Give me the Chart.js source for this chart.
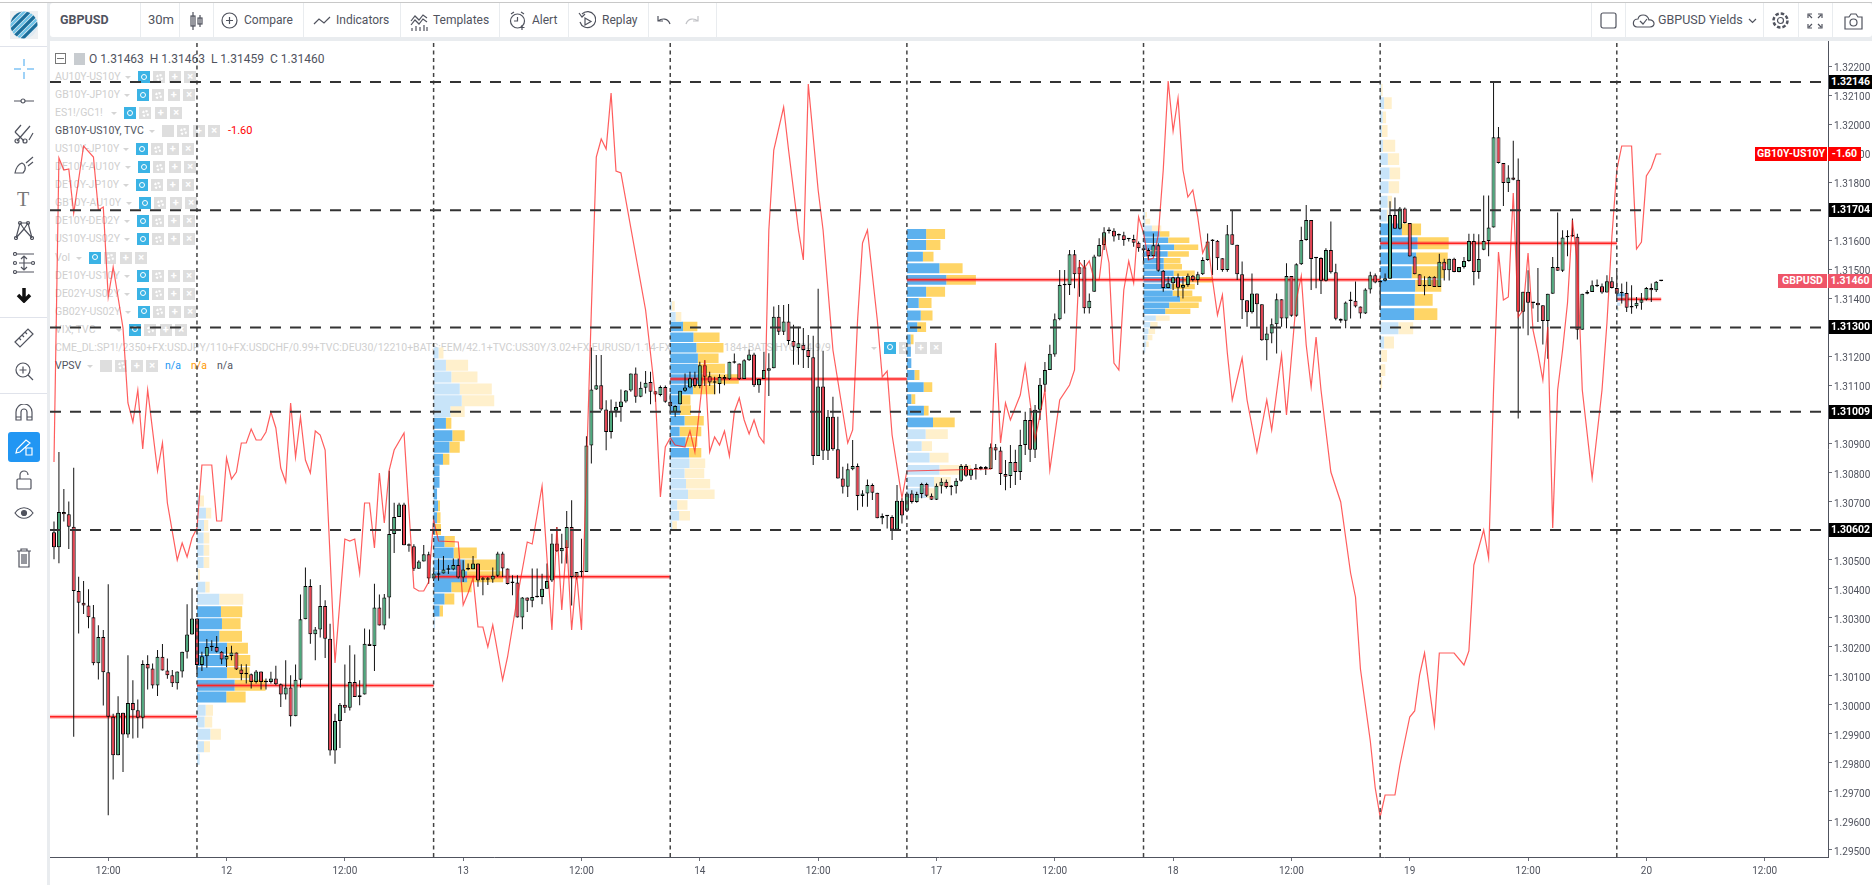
<!DOCTYPE html>
<html>
<head>
<meta charset="utf-8">
<title>GBPUSD 30m</title>
<script src="https://cdn.jsdelivr.net/npm/chart.js@4"></script>
<style>
  html, body { margin: 0; padding: 0; background: #e9ecef; overflow: hidden; }
  body { width: 1872px; height: 885px; position: relative; font-family: Roboto, sans-serif; color: #50535e; }
  #topline { position: absolute; left: 0; top: 0; width: 1872px; height: 3px; background: #fff; border-bottom: 1px solid #c8c8c8; box-sizing: border-box; }
  #topbar { position: absolute; left: 50px; top: 3px; width: 1822px; height: 34px; background: #fff; border-radius: 3px; }
  #leftbar { position: absolute; left: 0; top: 3px; width: 47px; height: 882px; background: #fff; }
  #logoBox { position: absolute; left: 0; top: 3px; width: 47px; height: 44px; border-bottom: 1px solid #e0e3eb; box-sizing: border-box; }
  #pane { position: absolute; left: 50px; top: 41px; width: 1822px; height: 844px; background: #fff; }
  #chartWrap { position: absolute; left: 50px; top: 41px; width: 1822px; height: 844px; }
  .sep { position: absolute; top: 3px; height: 34px; width: 1px; background: #e9ecef; }
  .hd { position: absolute; top: 13px; font-size: 12px; line-height: 14px; color: #50535e; white-space: nowrap; }
  .icon { position: absolute; }
  .icon * { fill: none; stroke: #50535e; stroke-width: 1.2; }
  .lsep { position: absolute; left: 0; width: 47px; height: 1px; background: #e0e3eb; }
  .lg { position: absolute; font-size: 10.5px; line-height: 14px; white-space: nowrap; color: #cfcfcf; }
  .lg.on { color: #50535e; }
  .caret { position: absolute; width: 0; height: 0; border-left: 3px solid transparent; border-right: 3px solid transparent; border-top: 3px solid #d5d5d5; }
  .btns { position: absolute; height: 12px; display: flex; gap: 3.4px; }
  .b { width: 12px; height: 12px; background: #dedede; color: #fff; font-size: 11px; line-height: 12px; text-align: center; font-weight: 700; }
  .b.eye { background: #3bb3e5; }
  .b.eye::after { content: ""; display: block; width: 4px; height: 4px; margin: 2.5px auto; border: 1.5px solid #fff; border-radius: 50%; }
  .b.gear::after { content: ""; display: block; width: 3px; height: 3px; margin: 2.5px auto; border: 2px dotted #fff; border-radius: 50%; }
  .tag { position: absolute; height: 14px; line-height: 14px; font-size: 10.5px; font-weight: 700; color: #fff; text-align: center; white-space: nowrap; }
</style>
</head>
<body>
<div id="topline"></div>
<div id="leftbar"></div>
<div id="logoBox"></div>
<div id="topbar"></div>
<div id="pane"></div>
<div id="legend"></div>
<div id="chartWrap"><canvas id="chart" width="1822" height="844"></canvas></div>
<div id="tags"></div>

<!-- logo -->
<svg class="icon" style="left:10px;top:11px" width="28" height="28" viewBox="0 0 28 28">
  <defs><clipPath id="logoClip"><circle cx="14" cy="14" r="13.5"/></clipPath></defs>
  <rect width="28" height="28" style="fill:#eef0f2;stroke:none"/>
  <g clip-path="url(#logoClip)">
    <circle cx="14" cy="14" r="14" style="fill:#dfeaf2;stroke:none"/>
    <path d="M-4 14 L14 -4 M0 20 L20 0 M4 26 L26 4 M10 30 L30 10 M16 34 L34 16" style="stroke:#1b6f9c;stroke-width:3.2"/>
    <path d="M-2 17 L17 -2 M2 23 L23 2 M7 28 L28 7" style="stroke:#6fc3e8;stroke-width:2.4"/>
  </g>
</svg>

<!-- top bar -->
<div class="sep" style="left:140px"></div><div class="sep" style="left:179px"></div><div class="sep" style="left:213px"></div>
<div class="sep" style="left:303px"></div><div class="sep" style="left:400px"></div><div class="sep" style="left:499px"></div>
<div class="sep" style="left:568px"></div><div class="sep" style="left:648px"></div><div class="sep" style="left:716px"></div>
<div class="sep" style="left:1591px"></div><div class="sep" style="left:1625px"></div><div class="sep" style="left:1763px"></div>
<div class="sep" style="left:1798px"></div><div class="sep" style="left:1832px"></div>
<div class="hd" style="left:60px;font-weight:700;font-size:12.5px">GBPUSD</div>
<div class="hd" style="left:148px;font-size:13px">30m</div>
<svg class="icon" style="left:189px;top:11px" width="15" height="20"><path d="M4 1V19M11 4V16"/><rect x="2" y="5" width="4" height="10"/><rect x="9" y="7" width="4" height="6"/></svg>
<svg class="icon" style="left:221px;top:12px" width="17" height="17"><circle cx="8.5" cy="8.5" r="7.5"/><path d="M8.5 5V12M5 8.5H12"/></svg>
<div class="hd" style="left:244px">Compare</div>
<svg class="icon" style="left:313px;top:15px" width="18" height="12"><path d="M1 9L6 4L11 8L17 2"/></svg>
<div class="hd" style="left:336px">Indicators</div>
<svg class="icon" style="left:410px;top:12px" width="18" height="20"><path d="M1 9L5 4L9 8L13 3L17 6M1 13L5 8L9 12L13 7L17 10M2 19V16M6 19V14M10 19V15M14 19V13M17 19V15"/></svg>
<div class="hd" style="left:433px">Templates</div>
<svg class="icon" style="left:509px;top:11px" width="18" height="20"><circle cx="8.5" cy="10" r="7"/><path d="M8.5 6V10H5M2 3L5 1M15 3L12 1M13 14V19M10.5 16.5H15.500"/></svg>
<div class="hd" style="left:532px">Alert</div>
<svg class="icon" style="left:578px;top:11px" width="18" height="20"><path d="M4 3A8 8 0 1 1 2 11M1 2L4 6L7 3"/><path d="M7 7V14L13 10.500Z"/></svg>
<div class="hd" style="left:602px">Replay</div>
<svg class="icon" style="left:657px;top:15px" width="14" height="12"><path d="M13 9C11 3 5 3 1 6M1 1V6H6"/></svg>
<svg class="icon" style="left:685px;top:15px;opacity:.35" width="14" height="12"><path d="M1 9C3 3 9 3 13 6M13 1V6H8"/></svg>
<svg class="icon" style="left:1600px;top:12px" width="17" height="17"><rect x="1" y="1" width="15" height="15" rx="2"/></svg>
<svg class="icon" style="left:1632px;top:12px" width="23" height="17"><path d="M5 15H18C24 15 23 7 17 8C15 1 7 2 6 7C0 7 0 15 5 15ZM8 9L11 12L15 7"/></svg>
<div class="hd" style="left:1658px;font-size:12.5px">GBPUSD Yields</div>
<svg class="icon" style="left:1748px;top:18px" width="9" height="6"><path d="M1 1L4.500 4.500L8 1"/></svg>
<svg class="icon" style="left:1771px;top:11px" width="19" height="19"><circle cx="9.500" cy="9.500" r="3"/><circle cx="9.500" cy="9.500" r="7" style="stroke-dasharray:3.500 2;stroke-width:2.500"/></svg>
<svg class="icon" style="left:1807px;top:13px" width="16" height="16"><path d="M1 5V1H5M11 1H15V5M15 11V15H11M5 15H1V11M2 2L5 5M14 2L11 5M14 14L11 11M2 14L5 11"/></svg>
<svg class="icon" style="left:1844px;top:12px" width="19" height="18"><path d="M1 5H5L7 2H12L14 5H18V17H1Z"/><circle cx="9.500" cy="10.500" r="3.500"/></svg>

<!-- left tool column -->
<svg class="icon" style="left:14px;top:59px" width="20" height="20"><path d="M10 0V7M10 13V20M0 10H7M13 10H20" style="stroke:#9fd2f7;stroke-width:2"/></svg>
<svg class="icon" style="left:14px;top:97px" width="20" height="8"><path d="M0 4H7M11 4H20"/><circle cx="9" cy="4" r="2"/></svg>
<svg class="icon" style="left:14px;top:122px" width="20" height="22"><path d="M3 19L16 4M10 19L1 10M15 18L19 11M1 10L7 3"/><circle cx="3" cy="19" r="2"/><circle cx="11" cy="19" r="2"/></svg>
<svg class="icon" style="left:14px;top:155px" width="20" height="20"><path d="M1 18H9C13 14 11 9 8 8C5 9 2 13 1 18ZM12 8L19 2M14 11L19 7"/></svg>
<div class="hd" style="left:17px;top:188px;font-family:'Liberation Serif',serif;font-size:20px;line-height:22px;color:#777">T</div>
<svg class="icon" style="left:14px;top:220px" width="20" height="20"><path d="M2 18L6 3L14 3L18 18M2 18L10 9L18 18M6 3L10 9L14 3"/><circle cx="2" cy="18" r="1.500"/><circle cx="18" cy="18" r="1.500"/><circle cx="6" cy="3" r="1.500"/><circle cx="14" cy="3" r="1.500"/></svg>
<svg class="icon" style="left:13px;top:252px" width="22" height="22"><path d="M3 2H21M6 11H18M3 20H21M11 4V18M8 7L11 4L14 7M8 15L11 18L14 15"/><circle cx="2" cy="2" r="1.500"/><circle cx="2" cy="11" r="1.500"/><circle cx="20" cy="11" r="1.500"/><circle cx="2" cy="20" r="1.500"/></svg>
<svg class="icon" style="left:16px;top:288px" width="16" height="15"><path d="M8 0V14M2 7L8 13L14 7" style="stroke:#111;stroke-width:3.500"/></svg>
<div class="lsep" style="top:317px"></div>
<svg class="icon" style="left:14px;top:328px" width="20" height="20"><path d="M1 14L14 1L19 6L6 19ZM5 10L7 12M8 7L10 9M11 4L13 6"/></svg>
<svg class="icon" style="left:14px;top:361px" width="20" height="20"><circle cx="9" cy="9" r="7"/><path d="M9 5.500V12.500M5.500 9H12.500M14 14L19 19"/></svg>
<div class="lsep" style="top:393px"></div>
<svg class="icon" style="left:15px;top:404px" width="18" height="20"><path d="M1 16V8A8 8 0 0 1 17 8V16H12V8A3 3 0 0 0 6 8V16ZM1 13H6M12 13H17"/></svg>
<div style="position:absolute;left:8px;top:432px;width:32px;height:30px;border-radius:3px;background:#2196f3"></div>
<svg class="icon" style="left:14px;top:437px" width="20" height="20"><path d="M2 16L3 12L12 3L16 6L6 15Z M12 11H18V18H12Z" style="stroke:#fff"/></svg>
<svg class="icon" style="left:16px;top:470px" width="16" height="20"><rect x="1" y="9" width="14" height="10" rx="1"/><path d="M4 9V5A4 4 0 0 1 12 5"/></svg>
<svg class="icon" style="left:14px;top:506px" width="20" height="14"><path d="M1 7C6 0 14 0 19 7C14 14 6 14 1 7Z"/><circle cx="10" cy="7" r="2.500" style="fill:#50535e"/></svg>
<svg class="icon" style="left:16px;top:548px" width="16" height="20"><path d="M1 3H15M5 3V1H11V3M3 3V19H13V3M6 6V16M8 6V16M10 6V16"/></svg>

<script>
  var opens = [
    1.30594,1.30542,1.30664,1.30656,1.30613,1.30392,1.30351,1.30342,1.30301,1.30143,
    1.30233,1.30112,1.29958,1.29826,1.29972,1.29897,1.30006,1.29981,1.29955,1.30140,
    1.30125,1.30066,1.30165,1.30118,1.30101,1.30074,1.30114,1.30182,1.30242,1.30297,
    1.30137,1.30167,1.30199,1.30199,1.30182,1.30156,1.30168,1.30180,1.30121,1.30106,
    1.30105,1.30078,1.30114,1.30078,1.30078,1.30090,1.30070,1.30035,1.30059,1.29960,
    1.30086,1.30294,1.30409,1.30243,1.30259,1.30340,1.30227,1.29842,1.29944,1.30000,
    1.29989,1.30078,1.30032,1.30035,1.30210,1.30202,1.30335,1.30273,1.30369,1.30588,
    1.30647,1.30690,1.30549,1.30546,1.30468,1.30493,1.30518,1.30435,1.30449,1.30452,
    1.30466,1.30466,1.30481,1.30438,1.30467,1.30467,1.30486,1.30431,1.30431,1.30431,
    1.30444,1.30521,1.30469,1.30420,1.30421,1.30300,1.30369,1.30358,1.30371,1.30371,
    1.30399,1.30428,1.30555,1.30529,1.30540,1.30612,1.30440,1.30457,1.30457,1.30893,
    1.31086,1.31101,1.31017,1.30940,1.31013,1.31026,1.31045,1.31083,1.31141,1.31061,
    1.31092,1.31112,1.31080,1.31067,1.31095,1.31044,1.31009,1.31035,1.31082,1.31093,
    1.31125,1.31098,1.31170,1.31132,1.31110,1.31105,1.31129,1.31121,1.31182,1.31176,
    1.31122,1.31187,1.31207,1.31101,1.31122,1.31151,1.31159,1.31337,1.31285,1.31320,
    1.31253,1.31229,1.31240,1.31222,1.31197,1.30857,1.31096,1.30875,1.30992,1.30880,
    1.30779,1.30751,1.30811,1.30822,1.30719,1.30728,1.30757,1.30730,1.30642,1.30650,
    1.30647,1.30604,1.30703,1.30668,1.30728,1.30698,1.30726,1.30760,1.30720,1.30706,
    1.30754,1.30768,1.30750,1.30753,1.30772,1.30822,1.30789,1.30812,1.30812,1.30819,
    1.30812,1.30887,1.30876,1.30795,1.30788,1.30836,1.30802,1.30895,1.30981,1.30878,
    1.31016,1.31102,1.31153,1.31207,1.31328,1.31446,1.31446,1.31552,1.31507,1.31507,
    1.31366,1.31423,1.31544,1.31584,1.31633,1.31633,1.31618,1.31618,1.31605,1.31605,
    1.31592,1.31573,1.31567,1.31546,1.31583,1.31495,1.31436,1.31452,1.31473,1.31437,
    1.31446,1.31478,1.31463,1.31483,1.31532,1.31599,1.31599,1.31538,1.31498,1.31621,
    1.31585,1.31483,1.31394,1.31352,1.31417,1.31380,1.31256,1.31279,1.31311,1.31397,
    1.31331,1.31477,1.31340,1.31518,1.31601,1.31670,1.31539,1.31539,1.31461,1.31567,
    1.31490,1.31330,1.31323,1.31392,1.31392,1.31372,1.31348,1.31431,1.31480,1.31461,
    1.31461,1.31468,1.31687,1.31640,1.31710,1.31660,1.31544,1.31483,1.31443,1.31443,
    1.31475,1.31439,1.31526,1.31497,1.31537,1.31491,1.31508,1.31529,1.31598,1.31491,
    1.31568,1.31598,1.31644,1.31955,1.31867,1.31798,1.31817,1.31809,1.31354,1.31423,
    1.31385,1.31385,1.31376,1.31322,1.31416,1.31508,1.31495,1.31612,1.31614,1.31612,
    1.31292,1.31416,1.31422,1.31443,1.31442,1.31420,1.31459,1.31436,1.31419,1.31419,
    1.31370,1.31373,1.31385,1.31396,1.31436,1.31428,1.31460
  ];
  var highs = [
    1.30631,1.30871,1.30743,1.30700,1.30816,1.30441,1.30426,1.30398,1.30343,1.30274,
    1.30257,1.30415,1.29969,1.30029,1.29972,1.30170,1.30084,1.30018,1.30153,1.30170,
    1.30142,1.30188,1.30209,1.30159,1.30119,1.30114,1.30182,1.30346,1.30401,1.30297,
    1.30182,1.30226,1.30222,1.30237,1.30185,1.30199,1.30203,1.30180,1.30139,1.30139,
    1.30107,1.30119,1.30114,1.30090,1.30113,1.30134,1.30073,1.30153,1.30101,1.30138,
    1.30380,1.30473,1.30432,1.30268,1.30412,1.30360,1.30279,1.29969,1.30006,1.30138,
    1.30205,1.30173,1.30084,1.30262,1.30259,1.30417,1.30380,1.30381,1.30806,1.30696,
    1.30696,1.30696,1.30555,1.30553,1.30498,1.30550,1.30527,1.30473,1.30504,1.30512,
    1.30481,1.30504,1.30504,1.30498,1.30486,1.30512,1.30486,1.30440,1.30440,1.30473,
    1.30527,1.30527,1.30469,1.30446,1.30446,1.30371,1.30369,1.30469,1.30469,1.30451,
    1.30486,1.30589,1.30612,1.30589,1.30667,1.30704,1.30457,1.30572,1.30925,1.31231,
    1.31205,1.31205,1.31049,1.31052,1.31044,1.31086,1.31084,1.31141,1.31162,1.31113,
    1.31150,1.31147,1.31080,1.31100,1.31100,1.31072,1.31032,1.31082,1.31141,1.31147,
    1.31147,1.31182,1.31187,1.31147,1.31130,1.31139,1.31136,1.31182,1.31210,1.31176,
    1.31190,1.31224,1.31213,1.31124,1.31216,1.31211,1.31372,1.31377,1.31377,1.31381,
    1.31309,1.31302,1.31298,1.31274,1.31271,1.31433,1.31220,1.31015,1.31061,1.30992,
    1.30820,1.30831,1.30912,1.30831,1.30739,1.30776,1.30762,1.30730,1.30659,1.30653,
    1.30653,1.30757,1.30711,1.30734,1.30739,1.30734,1.30765,1.30765,1.30728,1.30762,
    1.30780,1.30776,1.30757,1.30780,1.30829,1.30829,1.30814,1.30829,1.30822,1.30822,
    1.30900,1.30898,1.30889,1.30843,1.30895,1.30878,1.30947,1.31009,1.31022,1.31033,
    1.31126,1.31181,1.31240,1.31348,1.31498,1.31498,1.31567,1.31567,1.31532,1.31532,
    1.31417,1.31550,1.31607,1.31645,1.31645,1.31642,1.31624,1.31630,1.31607,1.31619,
    1.31596,1.31584,1.31573,1.31624,1.31590,1.31498,1.31475,1.31475,1.31486,1.31475,
    1.31486,1.31481,1.31492,1.31542,1.31624,1.31604,1.31601,1.31538,1.31653,1.31705,
    1.31585,1.31527,1.31394,1.31486,1.31417,1.31380,1.31302,1.31331,1.31417,1.31397,
    1.31521,1.31477,1.31521,1.31647,1.31722,1.31670,1.31542,1.31542,1.31573,1.31665,
    1.31519,1.31331,1.31389,1.31423,1.31458,1.31372,1.31435,1.31492,1.31486,1.31463,
    1.31486,1.31735,1.31748,1.31715,1.31713,1.31660,1.31544,1.31483,1.31476,1.31476,
    1.31476,1.31554,1.31537,1.31537,1.31540,1.31508,1.31543,1.31623,1.31623,1.31621,
    1.31755,1.31755,1.32147,1.31991,1.31867,1.31859,1.31943,1.31882,1.31423,1.31497,
    1.31385,1.31505,1.31376,1.31416,1.31543,1.31696,1.31635,1.31635,1.31675,1.31623,
    1.31416,1.31428,1.31462,1.31465,1.31451,1.31480,1.31474,1.31491,1.31451,1.31457,
    1.31445,1.31405,1.31419,1.31439,1.31451,1.31460,1.31463
  ];
  var lows = [
    1.30501,1.30487,1.30631,1.30536,1.29889,1.30245,1.30312,1.30263,1.30136,1.30087,
    1.29997,1.29619,1.29742,1.29826,1.29768,1.29886,1.29883,1.29886,1.29918,1.30052,
    1.30056,1.30030,1.30118,1.30089,1.30061,1.30052,1.30094,1.30159,1.30242,1.30105,
    1.30116,1.30127,1.30185,1.30180,1.30139,1.30130,1.30153,1.30119,1.30084,1.30073,
    1.30056,1.30073,1.30052,1.30052,1.30073,1.30067,1.29992,1.30018,1.29925,1.29960,
    1.30059,1.30294,1.30210,1.30153,1.30231,1.30161,1.29825,1.29796,1.29851,1.29971,
    1.29980,1.30026,1.29998,1.30035,1.30202,1.30116,1.30273,1.30259,1.30297,1.30523,
    1.30647,1.30549,1.30527,1.30461,1.30468,1.30493,1.30417,1.30426,1.30427,1.30452,
    1.30450,1.30463,1.30435,1.30423,1.30463,1.30467,1.30406,1.30377,1.30412,1.30420,
    1.30440,1.30440,1.30414,1.30377,1.30300,1.30260,1.30319,1.30336,1.30369,1.30346,
    1.30399,1.30423,1.30526,1.30486,1.30486,1.30342,1.30431,1.30440,1.30457,1.30831,
    1.31084,1.31013,1.30877,1.30917,1.30990,1.30975,1.31040,1.31078,1.31040,1.31059,
    1.31072,1.31035,1.31044,1.31063,1.31040,1.31006,1.30992,1.31035,1.31078,1.31090,
    1.31093,1.31090,1.31098,1.31098,1.31070,1.31072,1.31101,1.31119,1.31176,1.31119,
    1.31122,1.31184,1.31095,1.31075,1.31122,1.31064,1.31159,1.31274,1.31274,1.31240,
    1.31171,1.31171,1.31160,1.31160,1.30826,1.30857,1.30843,1.30843,1.30875,1.30779,
    1.30728,1.30716,1.30808,1.30670,1.30682,1.30682,1.30705,1.30642,1.30622,1.30607,
    1.30567,1.30601,1.30624,1.30665,1.30693,1.30696,1.30711,1.30716,1.30705,1.30705,
    1.30728,1.30745,1.30722,1.30728,1.30768,1.30785,1.30774,1.30776,1.30808,1.30791,
    1.30811,1.30843,1.30757,1.30739,1.30747,1.30757,1.30774,1.30860,1.30836,1.30850,
    1.30981,1.31078,1.31153,1.31199,1.31325,1.31348,1.31412,1.31435,1.31406,1.31348,
    1.31348,1.31423,1.31544,1.31567,1.31624,1.31596,1.31601,1.31581,1.31596,1.31578,
    1.31561,1.31527,1.31532,1.31544,1.31492,1.31423,1.31435,1.31429,1.31404,1.31400,
    1.31440,1.31458,1.31446,1.31481,1.31530,1.31481,1.31498,1.31492,1.31492,1.31585,
    1.31463,1.31329,1.31302,1.31348,1.31302,1.31254,1.31187,1.31245,1.31210,1.31302,
    1.31297,1.31337,1.31337,1.31515,1.31599,1.31429,1.31435,1.31415,1.31458,1.31486,
    1.31325,1.31316,1.31297,1.31331,1.31369,1.31331,1.31346,1.31417,1.31452,1.31360,
    1.31458,1.31468,1.31640,1.31637,1.31658,1.31544,1.31483,1.31443,1.31411,1.31443,
    1.31439,1.31439,1.31462,1.31462,1.31490,1.31490,1.31503,1.31526,1.31445,1.31468,
    1.31566,1.31545,1.31644,1.31865,1.31718,1.31767,1.31807,1.30986,1.31296,1.31273,
    1.31365,1.31319,1.31241,1.31192,1.31416,1.31495,1.31491,1.31545,1.31612,1.31258,
    1.31292,1.31414,1.31422,1.31439,1.31416,1.31420,1.31434,1.31393,1.31382,1.31353,
    1.31347,1.31365,1.31361,1.31393,1.31388,1.31422,1.31459
  ];
  var closes = [
    1.30542,1.30664,1.30656,1.30613,1.30392,1.30351,1.30342,1.30301,1.30143,1.30233,
    1.30112,1.29958,1.29826,1.29972,1.29897,1.30006,1.29981,1.29955,1.30140,1.30125,
    1.30066,1.30165,1.30118,1.30101,1.30074,1.30114,1.30182,1.30242,1.30297,1.30137,
    1.30167,1.30199,1.30198,1.30182,1.30156,1.30168,1.30180,1.30121,1.30106,1.30105,
    1.30078,1.30114,1.30078,1.30077,1.30090,1.30070,1.30035,1.30059,1.29960,1.30086,
    1.30294,1.30409,1.30243,1.30259,1.30340,1.30227,1.29842,1.29944,1.30000,1.29989,
    1.30078,1.30026,1.30026,1.30210,1.30202,1.30335,1.30273,1.30369,1.30588,1.30647,
    1.30690,1.30549,1.30548,1.30468,1.30493,1.30518,1.30435,1.30452,1.30448,1.30466,
    1.30465,1.30481,1.30438,1.30466,1.30466,1.30486,1.30428,1.30430,1.30430,1.30444,
    1.30521,1.30469,1.30416,1.30419,1.30300,1.30369,1.30358,1.30371,1.30370,1.30399,
    1.30426,1.30555,1.30529,1.30540,1.30612,1.30440,1.30457,1.30456,1.30893,1.31086,
    1.31101,1.31017,1.30940,1.31013,1.31026,1.31045,1.31083,1.31141,1.31061,1.31092,
    1.31109,1.31078,1.31069,1.31095,1.31044,1.31029,1.31029,1.31082,1.31093,1.31125,
    1.31098,1.31170,1.31130,1.31110,1.31109,1.31129,1.31121,1.31182,1.31178,1.31121,
    1.31187,1.31207,1.31101,1.31122,1.31153,1.31159,1.31337,1.31285,1.31320,1.31253,
    1.31233,1.31245,1.31222,1.31198,1.30857,1.31096,1.30875,1.30992,1.30880,1.30779,
    1.30751,1.30811,1.30822,1.30719,1.30728,1.30757,1.30730,1.30642,1.30650,1.30649,
    1.30604,1.30703,1.30652,1.30728,1.30698,1.30726,1.30760,1.30720,1.30706,1.30754,
    1.30768,1.30750,1.30753,1.30772,1.30822,1.30789,1.30811,1.30811,1.30819,1.30812,
    1.30887,1.30876,1.30795,1.30785,1.30836,1.30802,1.30895,1.30981,1.30878,1.31016,
    1.31102,1.31153,1.31209,1.31328,1.31446,1.31445,1.31552,1.31483,1.31483,1.31366,
    1.31392,1.31544,1.31584,1.31628,1.31632,1.31613,1.31617,1.31601,1.31604,1.31592,
    1.31573,1.31565,1.31546,1.31583,1.31495,1.31436,1.31452,1.31473,1.31437,1.31446,
    1.31478,1.31463,1.31483,1.31532,1.31596,1.31598,1.31538,1.31498,1.31621,1.31585,
    1.31483,1.31394,1.31352,1.31417,1.31380,1.31256,1.31279,1.31311,1.31397,1.31331,
    1.31477,1.31340,1.31518,1.31601,1.31670,1.31536,1.31538,1.31461,1.31567,1.31490,
    1.31330,1.31323,1.31386,1.31391,1.31372,1.31348,1.31431,1.31480,1.31455,1.31455,
    1.31469,1.31687,1.31640,1.31710,1.31660,1.31544,1.31483,1.31443,1.31442,1.31475,
    1.31439,1.31526,1.31497,1.31537,1.31491,1.31508,1.31529,1.31598,1.31491,1.31536,
    1.31598,1.31644,1.31955,1.31867,1.31798,1.31817,1.31809,1.31354,1.31423,1.31385,
    1.31384,1.31376,1.31322,1.31416,1.31508,1.31495,1.31610,1.31611,1.31613,1.31292,
    1.31416,1.31422,1.31445,1.31442,1.31420,1.31459,1.31436,1.31416,1.31418,1.31368,
    1.31369,1.31385,1.31396,1.31436,1.31428,1.31457,1.31460
  ];

  // GB10Y-US10Y spread overlay, in basis points, at the bars where the line turns
  var yieldBars = [
    0,1,2,3,4,6,8,9,10,11,12,14,15,16,17,18,19,21,22,23,25,26,27,28,29,30,32,33,34,35,36,37,38,39,40,41,42,43,44,45,
    46,47,48,49,50,51,52,53,54,55,57,59,60,61,62,63,64,65,66,67,68,69,71,73,74,75,76,77,78,82,83,84,85,86,87,88,89,
    91,92,94,96,97,99,101,102,103,104,105,106,107,109,110,111,112,113,114,115,120,122,123,124,125,126,128,129,130,132,
    133,134,135,136,137,138,139,140,141,142,143,144,145,146,148,149,151,152,153,155,156,158,161,162,163,164,165,167,
    168,169,170,172,173,190,191,192,193,194,196,197,199,201,202,204,206,207,208,209,210,211,212,213,214,215,216,217,
    218,219,220,221,222,223,224,225,226,227,228,229,230,231,232,233,234,235,236,237,238,239,241,242,244,246,247,249,
    250,252,253,254,255,256,257,259,261,263,264,265,267,268,269,270,272,273,275,276,277,278,280,281,284,286,287,288,
    290,291,292,293,294,295,296,297,298,299,300,301,302,303,304,305,306,307,308,309,310,312,314,315,316,317,318,320,
    321,322,323,324,325,326
  ];
  var yieldBps = [
    -175.4,-160.2,-160.8,-160.75,-162.95,-159.6,-160.15,-162.8,-162.65,-167.15,-165.65,-168.7,-172.45,-173.4,-171.8,-174.75,-171.8,-175.85,-174.45,-177.45,-180.3,-179.45,-180.15,-179.2,-178.7,-175.55,-175.55,-178.35,-178.35,-175.2,-176.25,-175.9,-174.45,-174.45,-173.75,-174.3,-174.3,-173.9,-172.9,-173.7,
    -175.7,-176.4,-172.45,-175.15,-173.15,-175.3,-175.95,-173.85,-174.05,-174.8,-185.45,-179.25,-179.35,-179.25,-180.95,-177.45,-177.45,-179.7,-175.95,-178.45,-175.8,-174.8,-173.95,-181.7,-181.85,-181.85,-181.4,-178.3,-179.35,-179.4,-182.55,-181.95,-181.2,-183.65,-183.65,-184.65,-183.55,
    -186.3,-185.15,-182.15,-179.4,-179.5,-176.6,-183.8,-178.65,-182.8,-179.3,-183.8,-180.95,-183.8,-167.8,-160.15,-159.25,-159.75,-156.95,-160.85,-160.95,-167.8,-172.15,-177.15,-174.65,-174.2,-174.55,-174.65,-173.85,-174.9,-170.3,
    -174.9,-174.15,-174.55,-173.85,-175.1,-172.9,-172.2,-173.3,-174,-173.3,-174.1,-174.45,-163.8,-159.8,-157.65,-159.8,-163.8,-165.3,-156.5,-161.8,-163.8,-169.8,-174.45,-173.8,-168.3,-164.45,-163.8,-168.3,
    -171.15,-170.85,-174.05,-177.2,-175.85,-175.75,-169.45,-174.45,-172.45,-173.3,-172.05,-170.55,-174.3,-171.8,-175.8,-172.3,-171.55,-170.8,-165.4,-165.7,-165.35,-166.3,-166.3,-164.2,-165.45,-170.45,-170.8,-166.8,
    -165.35,-166.45,-163.15,-163.95,-165.3,-165.2,-164.05,-160.8,-156.35,-158.85,-157.2,-160.8,-162.15,-161.8,-163.15,-164.95,-164.4,-166.3,-168.05,-167.05,-169.95,-172.3,-170.2,-172.3,-174.9,-172.3,-173.8,-170.05,
    -173.05,-167.3,-166.1,-169.55,-171.65,-169.15,-171.8,-175.9,-177.4,-180.95,-182.15,-185.75,-189.35,-191.7,-193.15,-192.05,-192.05,-190.55,-188.15,-187.85,-186.05,-184.95,-188.55,-184.95,-184.95,-185.55,-184.85,-180.55,
    -178.8,-180.2,-171.8,-164.9,-167.3,-167.15,-161.95,-168.15,-167.8,-164.95,-168.8,-169.95,-171.3,-168.65,-178.7,-171.8,-169.8,-167.45,-163.3,-165.45,-171.8,-176.2,-171.8,-168.45,-164.15,-160.8,-159.6,-159.6,
    -164.75,-164.4,-161.1,-160.7,-160,-160
  ];

  // session starts (bar numbers) and the drawn horizontal levels
  var sessionBars = [29, 77, 125, 173, 221, 269, 317];
  var levelPrices = [1.32146, 1.31704, 1.31300, 1.31009, 1.30602];

  // point of control of each session: from bar, to bar, price
  var pocFrom = [-1, 29, 77, 125, 173, 221, 269, 317];
  var pocTo = [29, 77, 125, 173, 221, 269, 317, 326];
  var pocPrice = [1.29958, 1.30066, 1.30441, 1.31122, 1.31464, 1.31464, 1.31590, 1.31397];

  // volume profile rows per session: price, up and down volume (in bar widths)
  var p1Prices = [1.30702,1.30660,1.30617,1.30574,1.30532,1.30490,1.30448,1.30405,1.30363,1.30320,1.30279,1.30236,1.30194,1.30152,1.30110,1.30067,1.30026,1.29981,1.29940,1.29898,1.29855,1.29812];
  var p1Up = [0.54,1.82,1.42,1.35,1.35,1.35,0.14,1.69,4.53,4.86,5.07,4.53,6.08,6.08,6.08,7.64,5.95,1.76,1.55,2.7,1.42,0.54];
  var p1Down = [0.88,1.08,0.88,1.15,1.15,1.15,0.47,0.88,4.86,4.32,3.78,4.6,4.26,4.73,4.6,6.28,3.92,1.49,1.55,2.16,1.22,0];
  var p2Prices = [1.31212,1.31170,1.31129,1.31088,1.31047,1.31010,1.30970,1.30927,1.30887,1.30846,1.30806,1.30766,1.30726,1.30685,1.30644,1.30604,1.30562,1.30523,1.30481,1.30441,1.30406,1.30364,1.30323,1.30281];
  var p2Up = [1,2.5,3.6,5.3,5.7,3.4,2.5,3.8,3.2,1.9,1.2,1.2,0.7,0.9,0.7,0.3,2.2,4.06,6.3,6.8,3.6,2.2,1.2,0.3];
  var p2Down = [1,4.5,5.3,6.5,6.6,2.9,1.1,2.5,2.1,1.3,0,0,0,0.4,0.7,1.2,2.1,4.7,6.4,7.3,4.1,2,0.7,0];
  var p3Prices = [1.31374,1.31337,1.31303,1.31266,1.31230,1.31194,1.31158,1.31122,1.31086,1.31050,1.31015,1.30978,1.30941,1.30905,1.30868,1.30832,1.30797,1.30761,1.30725,1.30688,1.30651,1.30616];
  var p3Up = [0.3,1.1,2.6,4.7,5.3,5.6,5.6,6.3,4.6,2.2,2,2.9,1.9,3.1,3.8,3.9,2.9,3.2,3.6,1.4,1.8,0.4];
  var p3Down = [0.6,1.15,2.9,5.3,5.5,4.2,5.5,7.6,4.6,1.9,2.2,3.9,4.4,2.4,2.5,3.2,4,4.9,5.4,2.1,2.2,0.95];
  var p4Prices = [1.31622,1.31584,1.31544,1.31504,1.31464,1.31423,1.31384,1.31341,1.31301,1.31259,1.31216,1.31177,1.31136,1.31094,1.31053,1.31013,1.30973,1.30932,1.30891,1.30851,1.30809,1.30768,1.30729];
  var p4Up = [3.9,3.9,3.25,6.6,8,3.9,2.4,2.8,2.1,0.75,0.8,0.9,1.55,3.4,0.9,3.45,5.3,3.8,3,4.6,6.6,5.5,4];
  var p4Down = [3.85,2.9,2.15,4.7,6,3.85,2.6,2.4,1.8,0.6,0,0,1,1.75,0.8,0.95,4.4,4.5,2.1,3.85,6.4,3.4,1.7];
  var p5Prices = [1.31688,1.31665,1.31642,1.31622,1.31600,1.31576,1.31553,1.31530,1.31509,1.31487,1.31464,1.31441,1.31418,1.31398,1.31376,1.31356,1.31332,1.31309,1.31287,1.31265,1.31242,1.31222];
  var p5Up = [0.3,0.35,1.7,3.25,5,6.2,4.9,4.1,4.1,6.1,8.1,5.7,5.9,7.4,5.2,4.4,2.5,1.35,1,0.8,0.55,0.35];
  var p5Down = [0.4,1,1.9,2,4.3,4.9,4.3,3.4,3.7,4.3,5.9,4.7,4,4.4,6,5.1,2.8,1.5,1.35,1,0.5,0];
  var p6Prices = [1.32118,1.32073,1.32024,1.31977,1.31926,1.31880,1.31831,1.31783,1.31733,1.31685,1.31638,1.31590,1.31538,1.31490,1.31443,1.31395,1.31346,1.31297,1.31248,1.31202,1.31153,1.31109];
  var p6Up = [0.2,0.8,0.5,0.35,0.55,1.55,1.9,1.7,1.5,1.35,4.4,7.6,7.3,6.4,7.1,7,6.9,3.7,0.8,0.2,0.1,0];
  var p6Down = [0.3,1.55,0.7,1.15,2.5,2.3,2.15,2.15,0.9,0.35,3.9,6.3,6.4,6.6,5.3,3.65,4.7,3,2,1.2,0.95,0.4];
  var p7Prices = [1.31412,1.31397,1.31380,1.31363];
  var p7Up = [1.6,1.5,0.7,0.3];
  var p7Down = [0.3,0.3,0.3,0.2];
  // value area limits of each session: rows outside are drawn pale
  var vaHigh = [1.30320, 1.30970, 1.31303, 1.31622, 1.31622, 1.31638, 1.31412];
  var vaLow = [1.30026, 1.30323, 1.30868, 1.30973, 1.31356, 1.31346, 1.31397];

  // axis ticks
  var priceTicks = [1.295,1.296,1.297,1.298,1.299,1.300,1.301,1.302,1.303,1.304,1.305,1.306,1.307,1.308,1.309,1.310,1.311,1.312,1.313,1.314,1.315,1.316,1.317,1.318,1.319,1.320,1.321,1.322];
  var timeTickBars = [11, 35, 59, 83, 107, 131, 155, 179, 203, 227, 251, 275, 299, 323, 347];
  var timeTickLabels = ['12:00','12','12:00','13','12:00','14','12:00','17','12:00','18','12:00','19','12:00','20','12:00'];

  // legend column
  var legendNames = ['AU10Y-US10Y','GB10Y-JP10Y','ES1!/GC1!','GB10Y-US10Y, TVC','US10Y-JP10Y','DE10Y-AU10Y','DE10Y-JP10Y','GB10Y-AU10Y','DE10Y-DE02Y','US10Y-US02Y','Vol','DE10Y-US10Y','DE02Y-US02Y','GB02Y-US02Y','VIX, TVC','CME_DL:SP1!/2350+FX:USDJPY/110+FX:USDCHF/0.99+TVC:DEU30/12210+BATS:EEM/42.1+TVC:US30Y/3.02+FX:EURUSD/1.14-FX:XAUUSD/1184+BATS:HYG/84.9/9'];
  var legendButtonX = [138,137,124,162,136,138,136,139,137,137,89,137,137,138,129,884];

  var xMin = -0.81, xMax = 359.84;
  var priceMin = 1.29475, priceMax = 1.32287;
  var spreadMin = -195.15, spreadMax = -154.35;

  function rowThickness(prices) {
    return function (ctx) {
      var y = ctx.chart.scales.y;
      return Math.abs(y.getPixelForValue(prices[0]) - y.getPixelForValue(prices[1])) - 1.2;
    };
  }

  function profileDatasets(start, prices, up, down, high, low) {
    var rows = { upIn: [], upOut: [], downIn: [], downOut: [] };
    prices.forEach(function (p, r) {
      var inside = p <= high + 1e-6 && p >= low - 1e-6;
      var u = inside ? rows.upIn : rows.upOut;
      var d = inside ? rows.downIn : rows.downOut;
      u.push({ x: start, y: p }, { x: start + up[r], y: p }, { x: start, y: null });
      d.push({ x: start + up[r], y: p }, { x: start + up[r] + down[r], y: p }, { x: start, y: null });
    });
    var make = function (data, colour) {
      return { type: 'line', data: data, borderColor: colour, borderWidth: rowThickness(prices), pointRadius: 0, order: 6, yAxisID: 'y', borderCapStyle: 'butt' };
    };
    return [make(rows.upOut, '#c8e4f9'), make(rows.downOut, '#fff0cc'), make(rows.upIn, '#5db1ee'), make(rows.downIn, '#ffd566')];
  }

  function pocDatasets() {
    var out = [];
    pocPrice.forEach(function (p, k) {
      var data = [{ x: pocFrom[k], y: p }, { x: pocTo[k], y: p }];
      out.push({ type: 'line', data: data, borderColor: 'rgba(255,40,40,0.35)', borderWidth: 4, pointRadius: 0, order: 5, yAxisID: 'y' });
      out.push({ type: 'line', data: data, borderColor: '#ff2020', borderWidth: 1.5, pointRadius: 0, order: 5, yAxisID: 'y' });
    });
    return out;
  }

  function candleDatasets() {
    var bars = opens.map(function (o, i) { return i; });
    return [
      {
        type: 'bar', grouped: false, order: 4, yAxisID: 'y',
        data: bars.map(function (i) { return { x: i, y: [lows[i], highs[i]] }; }),
        backgroundColor: '#111', barThickness: 1, inflateAmount: 0
      },
      {
        type: 'bar', grouped: false, order: 3, yAxisID: 'y',
        data: bars.map(function (i) { return { x: i, y: [opens[i], closes[i]] }; }),
        backgroundColor: bars.map(function (i) { return closes[i] >= opens[i] ? '#4caa7d' : '#e5404f'; }),
        borderColor: '#000', borderWidth: 1, borderSkipped: false, barThickness: 4, minBarLength: 1.5, inflateAmount: 0
      }
    ];
  }

  function drawingDatasets() {
    var out = [];
    levelPrices.forEach(function (p) {
      out.push({ type: 'line', data: [{ x: xMin, y: p }, { x: xMax, y: p }], borderColor: '#333', borderWidth: 2, borderDash: [11, 9], pointRadius: 0, order: 1, yAxisID: 'y' });
    });
    sessionBars.forEach(function (b) {
      out.push({ type: 'line', data: [{ x: b, y: priceMin }, { x: b, y: priceMax }], borderColor: '#444', borderWidth: 1.5, borderDash: [4, 3.5], pointRadius: 0, order: 1, yAxisID: 'y' });
    });
    return out;
  }

  function spreadDataset() {
    return {
      type: 'line', yAxisID: 'y2', order: 2,
      data: yieldBars.map(function (b, k) { return { x: b, y: yieldBps[k] }; }),
      borderColor: 'rgba(255,30,30,0.72)', borderWidth: 1.2, pointRadius: 0, tension: 0
    };
  }

  function renderChart() {
    var datasets = []
      .concat(profileDatasets(sessionBars[0], p1Prices, p1Up, p1Down, vaHigh[0], vaLow[0]))
      .concat(profileDatasets(sessionBars[1], p2Prices, p2Up, p2Down, vaHigh[1], vaLow[1]))
      .concat(profileDatasets(sessionBars[2], p3Prices, p3Up, p3Down, vaHigh[2], vaLow[2]))
      .concat(profileDatasets(sessionBars[3], p4Prices, p4Up, p4Down, vaHigh[3], vaLow[3]))
      .concat(profileDatasets(sessionBars[4], p5Prices, p5Up, p5Down, vaHigh[4], vaLow[4]))
      .concat(profileDatasets(sessionBars[5], p6Prices, p6Up, p6Down, vaHigh[5], vaLow[5]))
      .concat(profileDatasets(sessionBars[6], p7Prices, p7Up, p7Down, vaHigh[6], vaLow[6]))
      .concat(pocDatasets())
      .concat(candleDatasets())
      .concat([spreadDataset()])
      .concat(drawingDatasets());

    return new Chart(document.getElementById('chart'), {
      type: 'line',
      data: { datasets: datasets },
      options: {
        responsive: false,
        animation: false,
        events: [],
        layout: { padding: 0 },
        plugins: { legend: { display: false }, tooltip: { enabled: false } },
        scales: {
          x: {
            type: 'linear', min: xMin, max: xMax, offset: false,
            afterFit: function (s) { s.height = 28; s.paddingLeft = 0; s.paddingRight = 0; },
            afterBuildTicks: function (s) { s.ticks = timeTickBars.map(function (v) { return { value: v }; }); },
            grid: { offset: false, drawOnChartArea: false, drawTicks: true, tickLength: 4, color: '#6b6e78' },
            border: { color: '#50535e' },
            ticks: {
              autoSkip: false, maxRotation: 0, color: '#50535e', padding: 4,
              font: { family: 'Roboto', size: 10 },
              callback: function (v) { return timeTickLabels[timeTickBars.indexOf(v)]; }
            }
          },
          y: {
            type: 'linear', position: 'right', min: priceMin, max: priceMax,
            afterFit: function (s) { s.width = 44; s.paddingTop = 0; s.paddingBottom = 0; },
            afterBuildTicks: function (s) { s.ticks = priceTicks.map(function (v) { return { value: v }; }); },
            grid: { drawOnChartArea: false, drawTicks: true, tickLength: 4, color: '#6b6e78' },
            border: { color: '#50535e' },
            ticks: {
              color: '#50535e', padding: 2, labelOffset: 2.5,
              font: { family: 'Roboto', size: 10 },
              callback: function (v) { return v.toFixed(5); }
            }
          },
          y2: { type: 'linear', display: false, min: spreadMin, max: spreadMax }
        }
      }
    });
  }

  function addTag(parent, text, left, width, centre, colour) {
    var el = document.createElement('div');
    el.className = 'tag';
    el.textContent = text;
    el.style.left = left + 'px';
    el.style.width = width + 'px';
    el.style.top = (centre - 7) + 'px';
    el.style.background = colour;
    parent.appendChild(el);
  }

  function renderTags(chart) {
    var top = chart.canvas.getBoundingClientRect().top;
    var tags = document.getElementById('tags');
    levelPrices.forEach(function (p) {
      addTag(tags, p.toFixed(5), 1829, 43, top + chart.scales.y.getPixelForValue(p), '#000');
    });
    var spreadY = top + chart.scales.y2.getPixelForValue(yieldBps[yieldBps.length - 1]);
    addTag(tags, 'GB10Y-US10Y', 1755, 72, spreadY, '#ff0000');
    addTag(tags, (yieldBps[yieldBps.length - 1] / 100).toFixed(2), 1828, 33, spreadY, '#ff0000');
    var lastY = top + chart.scales.y.getPixelForValue(closes[closes.length - 1]);
    addTag(tags, 'GBPUSD', 1778, 49, lastY, '#ef5568');
    addTag(tags, closes[closes.length - 1].toFixed(5), 1828, 44, lastY, '#ef5568');
  }

  function addLegendText(parent, text, x, y, on, colour) {
    var el = document.createElement('div');
    el.className = on ? 'lg on' : 'lg';
    el.textContent = text;
    el.style.left = x + 'px';
    el.style.top = (y - 7) + 'px';
    if (colour) { el.style.color = colour; }
    parent.appendChild(el);
    return el;
  }

  function addButtons(parent, x, y, firstActive) {
    var caret = document.createElement('div');
    caret.className = 'caret';
    caret.style.left = (x - 13) + 'px';
    caret.style.top = (y - 1) + 'px';
    parent.appendChild(caret);
    var box = document.createElement('div');
    box.className = 'btns';
    box.style.left = x + 'px';
    box.style.top = (y - 6) + 'px';
    box.innerHTML = '<div class="b' + (firstActive ? ' eye' : '') + '"></div><div class="b gear"></div><div class="b">+</div><div class="b">×</div>';
    parent.appendChild(box);
  }

  function renderLegend() {
    var legend = document.getElementById('legend');
    addLegendText(legend, 'O 1.31463  H 1.31463  L 1.31459  C 1.31460', 89, 59, true).style.fontSize = '12px';
    legend.firstChild.style.whiteSpace = 'pre';
    legend.insertAdjacentHTML('beforeend', '<div style="position:absolute;left:55px;top:53px;width:11px;height:11px;border:1px solid #777;box-sizing:border-box"></div><div style="position:absolute;left:57px;top:58px;width:7px;height:1px;background:#777"></div><div style="position:absolute;left:74px;top:53px;width:11px;height:12px;background:#c8ccd0"></div>');
    var rowY = 77;
    legendNames.forEach(function (name, k) {
      var active = name === 'GB10Y-US10Y, TVC';
      addLegendText(legend, name, 55, rowY, active);
      addButtons(legend, legendButtonX[k], rowY, !active);
      if (active) { addLegendText(legend, '-1.60', 228, rowY, true, '#ff0000').style.fontSize = '11px'; }
      rowY += 18.05;
    });
    addLegendText(legend, 'VPSV', 55, rowY, true);
    addButtons(legend, 100, rowY, false);
    addLegendText(legend, 'n/a', 165, rowY, true, '#2196f3');
    addLegendText(legend, 'n/a', 191, rowY, true, '#ff9800');
    addLegendText(legend, 'n/a', 217, rowY, true);
  }

  renderLegend();
  renderTags(renderChart());
</script>
</body>
</html>
